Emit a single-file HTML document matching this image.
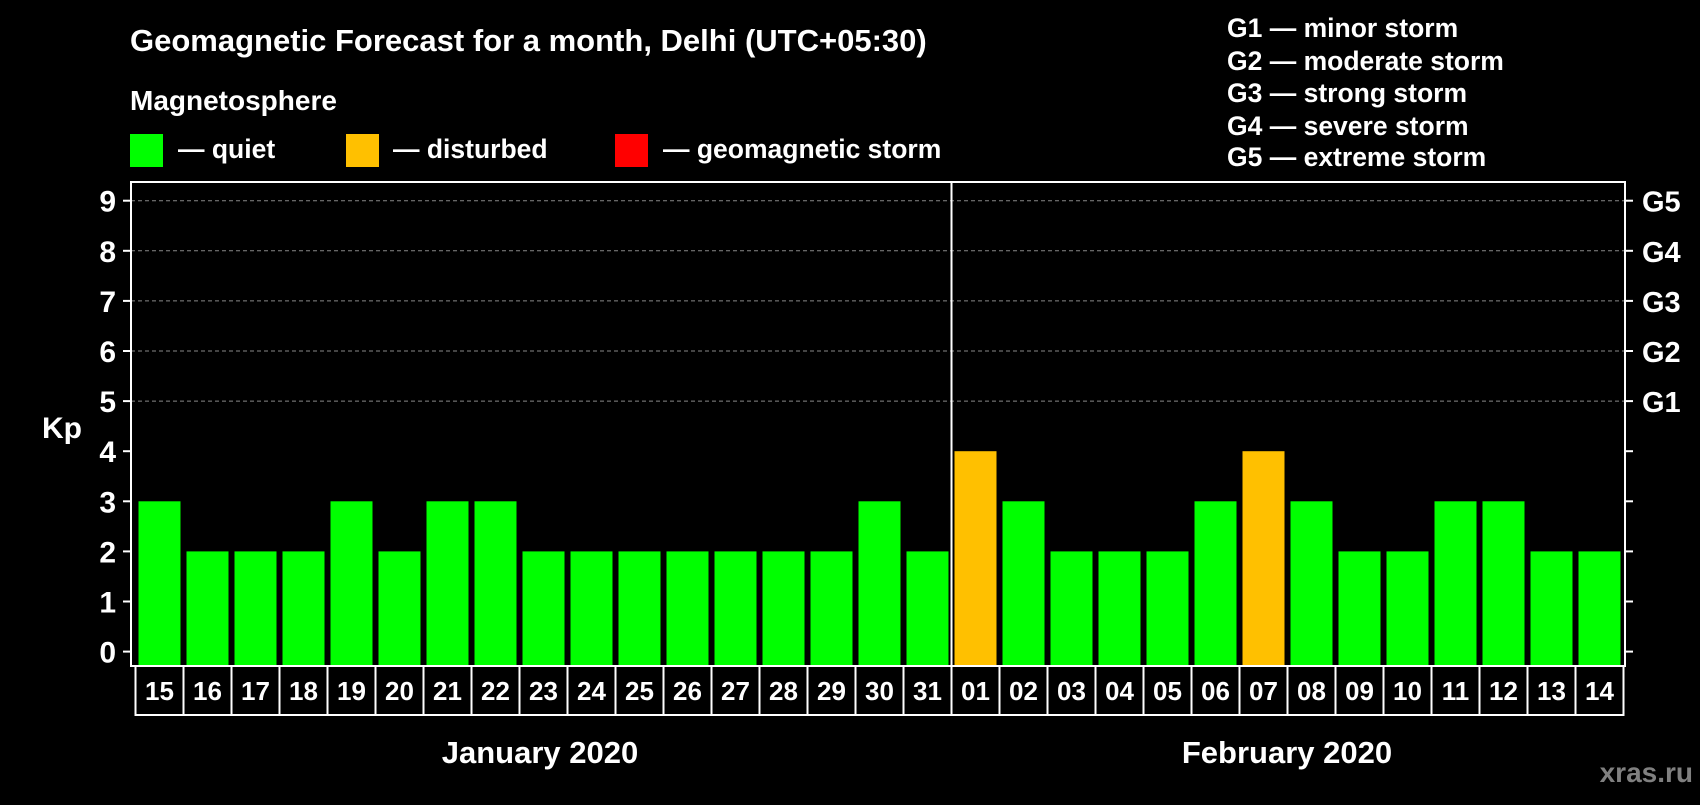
<!DOCTYPE html>
<html><head><meta charset="utf-8"><style>
body{margin:0;background:#000;width:1700px;height:800px;overflow:hidden}
svg text{font-family:"Liberation Sans",Arial,sans-serif;font-weight:bold;fill:#fff}
</style></head><body>
<svg id="c" width="1700" height="800" xmlns="http://www.w3.org/2000/svg">
<text x="130" y="51" font-size="31">Geomagnetic Forecast for a month, Delhi (UTC+05:30)</text>
<text x="130" y="110" font-size="28">Magnetosphere</text>
<rect x="130" y="134" width="33" height="33" fill="#00ff00"/>
<text x="178" y="158" font-size="26.5">— quiet</text>
<rect x="346" y="134" width="33" height="33" fill="#ffc000"/>
<text x="393" y="158" font-size="26.5">— disturbed</text>
<rect x="615" y="134" width="33" height="33" fill="#ff0000"/>
<text x="663" y="158" font-size="26.5">— geomagnetic storm</text>
<g font-size="26.5">
<text x="1227" y="37">G1 — minor storm</text>
<text x="1227" y="70">G2 — moderate storm</text>
<text x="1227" y="102">G3 — strong storm</text>
<text x="1227" y="135">G4 — severe storm</text>
<text x="1227" y="166">G5 — extreme storm</text>
</g>
<text x="42" y="438" font-size="30">Kp</text>
<text x="540" y="763" font-size="31" text-anchor="middle">January 2020</text>
<text x="1287" y="763" font-size="31" text-anchor="middle">February 2020</text>
<text x="1693" y="782" font-size="28" text-anchor="end" style="fill:#808080">xras.ru</text>
<g id="plot"></g>
</svg>
<script>
const days=["15","16","17","18","19","20","21","22","23","24","25","26","27","28","29","30","31","01","02","03","04","05","06","07","08","09","10","11","12","13","14"];
const kp=[3,2,2,2,3,2,3,3,2,2,2,2,2,2,2,3,2,4,3,2,2,2,3,4,3,2,2,3,3,2,2];
const yTicks=[0,1,2,3,4,5,6,7,8,9];
const gLabels=["G1","G2","G3","G4","G5"];
const gLevels=[5,6,7,8,9];
const NS="http://www.w3.org/2000/svg";
const g=document.getElementById('plot');
const L=131,R=1625,T=182,B=666,x0=138.5,pitch=48,bw=42;
const y=v=>651.6-v*50.1;
const x=i=>x0+i*pitch;
function mk(t,a){const e=document.createElementNS(NS,t);for(const k in a)e.setAttribute(k,a[k]);g.appendChild(e);return e;}
yTicks.forEach(v=>{
 if(v>=5){const l=mk('line',{x1:L,x2:R,y1:y(v),y2:y(v),stroke:'#888','stroke-width':1,'stroke-dasharray':'4,3'});
 
 }
 mk('line',{x1:123,x2:L,y1:y(v),y2:y(v),stroke:'#fff','stroke-width':2});
 mk('line',{x1:R,x2:1633,y1:y(v),y2:y(v),stroke:'#fff','stroke-width':2});
 const t=mk('text',{x:116,y:y(v)+11,'font-size':30,'text-anchor':'end'});t.textContent=v;
 
 
});
gLabels.forEach((s,i)=>{const t=mk('text',{x:1642,y:y(gLevels[i])+11,'font-size':29});t.textContent=s;
 
 });
kp.forEach((v,i)=>{
 const r=mk('rect',{x:x(i),y:y(v),width:bw,height:B-y(v),fill:v>=5?'#ff0000':v>=4?'#ffc000':'#00ff00'});
 
 
 const t=mk('text',{x:x(i)+bw/2,y:700,'font-size':26,'text-anchor':'middle'});t.textContent=days[i];
 
 
 mk('line',{x1:x(i)-3,x2:x(i)-3,y1:B,y2:716,stroke:'#fff','stroke-width':2});
});
mk('line',{x1:x(kp.length)-3,x2:x(kp.length)-3,y1:B,y2:716,stroke:'#fff','stroke-width':2});
mk('line',{x1:x(0)-4,x2:x(kp.length)-2,y1:715,y2:715,stroke:'#fff','stroke-width':2});
const f=mk('rect',{x:L,y:T,width:R-L,height:B-T,fill:'none',stroke:'#fff','stroke-width':2});


const d=mk('line',{x1:x(17)-3,x2:x(17)-3,y1:T,y2:B,stroke:'#fff','stroke-width':2});


</script>
</body></html>
